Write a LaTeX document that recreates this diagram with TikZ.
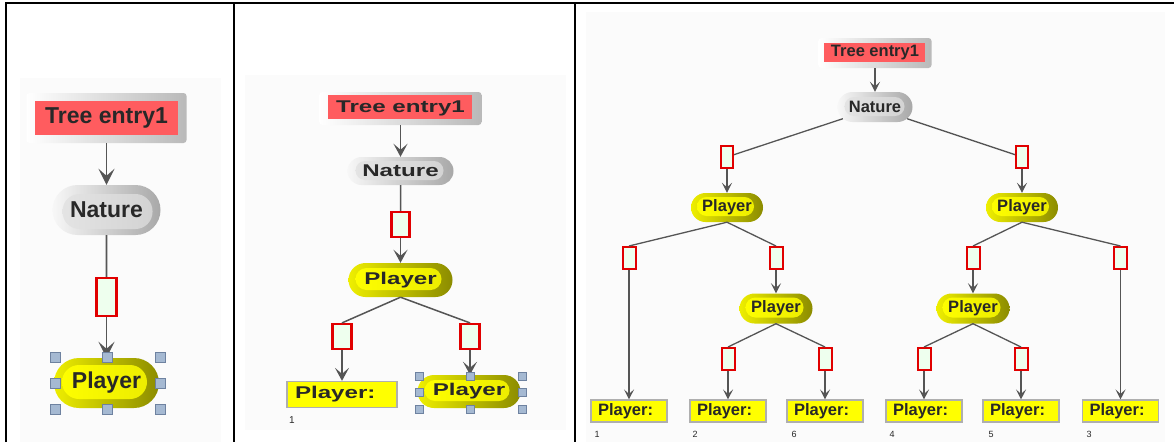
\documentclass[tikz,border=0pt]{standalone}
\usepackage{fontspec}
\setmainfont{Liberation Sans}
\usepackage{graphicx}
\usetikzlibrary{shapes.misc,arrows.meta}
\definecolor{redfill}{RGB}{255,92,95}
\definecolor{edgegray}{RGB}{85,85,85}
\definecolor{boxred}{RGB}{225,0,0}
\definecolor{boxfill}{RGB}{238,255,238}
\definecolor{yel}{RGB}{255,255,0}
\definecolor{yelA}{RGB}{238,238,0}
\definecolor{yelD}{RGB}{140,140,0}
\definecolor{handle}{RGB}{165,185,210}
\definecolor{handleedge}{RGB}{110,130,160}
\definecolor{txt}{RGB}{40,40,40}
\definecolor{bgfaint}{RGB}{251,251,251}
\definecolor{pboxedge}{RGB}{175,175,175}
\newcommand{\txA}[1]{{\fontsize{23}{23}\selectfont\bfseries #1}}
\newcommand{\txB}[1]{\scalebox{1.42}[1]{\fontsize{17}{17}\selectfont\bfseries #1}}
\newcommand{\txC}[1]{{\fontsize{16.5}{16.5}\selectfont\bfseries #1}}
\tikzset{
  treebox/.style n args={6}{rectangle, rounded corners=3pt, minimum width=#1, minimum height=#2, inner sep=0pt,
    left color=white, right color=gray!55, text=txt,
    path picture={\fill[redfill, sharp corners] ([xshift=#3,yshift=-#4]path picture bounding box.north west) rectangle ([xshift=-#5,yshift=#6]path picture bounding box.south east);}},
  pillin/.style n args={6}{path picture={\path[#6, rounded corners=#5] ([xshift=#1,yshift=-#2]path picture bounding box.north west) rectangle ([xshift=-#3,yshift=#4]path picture bounding box.south east);}},
  natout/.style={rounded rectangle, inner sep=0pt, left color=gray!6, right color=gray!68, text=txt},
  natin/.style={left color=gray!20, right color=gray!36},
  plyout/.style={rounded rectangle, inner sep=0pt, left color=yelA, right color=yelD, text=txt},
  plyin/.style={left color=yel, right color=yel!92!black},
  rbox/.style={rectangle, draw=boxred, fill=boxfill, inner sep=0pt},
  pbox/.style={rectangle, fill=yel, draw=pboxedge, line width=1.3pt, inner sep=0pt, text=txt},
  hnd/.style={rectangle, draw=handleedge, fill=handle, line width=0.8pt, minimum size=#1, inner sep=0pt},
  lnA/.style={draw=edgegray, line width=1.6pt},
  lnB/.style={draw=edgegray, line width=1.5pt},
  lnC/.style={draw=edgegray, line width=1.3pt},
  arA/.style={lnA, -{Stealth[length=16pt, width=16pt, inset=7pt]}},
  arB/.style={lnB, -{Stealth[length=13pt, width=14pt, inset=6pt]}},
  arC/.style={lnC, -{Stealth[length=10pt, width=10pt, inset=4.5pt]}},
  labB/.style={text=txt, inner sep=0pt, font=\fontsize{10}{10}\selectfont},
  labC/.style={text=txt, inner sep=0pt, font=\fontsize{9}{9}\selectfont},
}
\begin{document}
\begin{tikzpicture}[x=1pt,y=-1pt]
\fill[white] (0,0) rectangle (1174,442);
\useasboundingbox (0,0) rectangle (1174,442);
\fill[bgfaint] (20,78) rectangle (221,442);
\fill[bgfaint] (245,75) rectangle (566,430);
\fill[bgfaint] (586,12) rectangle (1165,442);
% frame
\draw[line width=2pt] (5.8,442) -- (5.8,3.2) -- (1174,3.2);
\draw[line width=2pt] (233.7,3.2) -- (233.7,442);
\draw[line width=2pt] (574.5,3.2) -- (574.5,442);

% ---------- Panel 1 ----------
\node[treebox={160pt}{50pt}{8pt}{8pt}{9pt}{8pt}] (t1) at (106.5,118) {\txA{Tree entry1}};
\node[natout, minimum width=108pt, minimum height=50pt, pillin={10pt}{9pt}{8pt}{6pt}{17pt}{natin}] (n1) at (106.5,210) {\txA{Nature}};
\node[rbox, line width=2.5pt, minimum width=20pt, minimum height=38pt] (r1) at (106.5,297) {};
\node[plyout, minimum width=105pt, minimum height=50pt, pillin={8pt}{7pt}{12pt}{9pt}{17pt}{plyin}] (p1) at (106.5,383) {\txA{Player}};
\draw[arA] (t1.south) -- (n1.north);
\draw[lnA] (n1) -- (r1);
\draw[arA] (r1.south) -- (p1.north);
\foreach \hx/\hy [count=\i] in {55/357,107/357,160/357,55/383,160/383,55/409,107/409,160/409}
  \node[hnd=10pt] (ha\i) at (\hx,\hy) {};

% ---------- Panel 2 ----------
\node[treebox={162pt}{33pt}{8pt}{3pt}{10pt}{6pt}] (t2) at (400.5,108.5) {\txB{Tree entry1}};
\node[natout, minimum width=106pt, minimum height=28pt, pillin={8pt}{4pt}{10pt}{5pt}{9.5pt}{natin}] (n2) at (400.5,171) {\txB{Nature}};
\node[rbox, line width=2.2pt, minimum width=18pt, minimum height=25pt] (r2) at (400.5,224.5) {};
\node[plyout, minimum width=104pt, minimum height=34pt, pillin={7pt}{5pt}{11pt}{7pt}{11pt}{plyin}] (p2) at (400.5,280) {\txB{Player}};
\node[rbox, line width=2.2pt, minimum width=19pt, minimum height=25pt] (r2l) at (342,336.5) {};
\node[rbox, line width=2.2pt, minimum width=19pt, minimum height=25pt] (r2r) at (470,336.5) {};
\node[pbox, minimum height=26pt] (q2) at (342,394.5) {\makebox[110pt][l]{\hspace{8pt}\txB{Player:}}};
\node[plyout, minimum width=103pt, minimum height=33pt, pillin={7pt}{5pt}{11pt}{7pt}{10.5pt}{plyin}] (p2b) at (469,391.5) {\txB{Player}};
\node[labB] (l2) at (292,420) {1};
\draw[arB] (t2.south) -- (n2.north);
\draw[lnB] (n2) -- (r2);
\draw[arB] (r2.south) -- (p2.north);
\draw[lnB] (p2.south) -- (r2l.north);
\draw[lnB] (p2.south) -- (r2r.north);
\draw[arB] (r2l.south) -- (q2.north);
\draw[arB] (r2r.south) -- (r2r.south |- p2b.north);
\foreach \hx/\hy [count=\i] in {419/376,470/376,522/376,419/392.5,522/392.5,419/409,470/409,522/409}
  \node[hnd=8pt] (hb\i) at (\hx,\hy) {};

% ---------- Panel 3 ----------
\node[treebox={113pt}{30pt}{5pt}{5pt}{7pt}{6pt}] (t3) at (875,53) {\txC{Tree entry1}};
\node[natout, minimum width=75pt, minimum height=30pt, pillin={7pt}{5pt}{8pt}{6pt}{9.5pt}{natin}] (n3) at (875,107) {\txC{Nature}};
\node[rbox, line width=2pt, minimum width=12pt, minimum height=22pt] (r3l) at (727,157) {};
\node[rbox, line width=2pt, minimum width=12pt, minimum height=22pt] (r3r) at (1022,157) {};
\node[plyout, minimum width=72pt, minimum height=29pt, pillin={6pt}{4pt}{9pt}{6pt}{9.5pt}{plyin}] (p3l) at (727,207.5) {\txC{Player}};
\node[plyout, minimum width=72pt, minimum height=29pt, pillin={6pt}{4pt}{9pt}{6pt}{9.5pt}{plyin}] (p3r) at (1022,207.5) {\txC{Player}};
\foreach \nm/\bx in {r3a/629,r3b/776,r3c/973,r3d/1120.5}
  \node[rbox, line width=2pt, minimum width=13pt, minimum height=22pt] (\nm) at (\bx,258) {};
\node[plyout, minimum width=73pt, minimum height=30pt, pillin={6pt}{4pt}{9pt}{6pt}{10pt}{plyin}] (p3m) at (776,308.5) {\txC{Player}};
\node[plyout, minimum width=73pt, minimum height=30pt, pillin={6pt}{4pt}{9pt}{6pt}{10pt}{plyin}] (p3n) at (973,308.5) {\txC{Player}};
\foreach \nm/\bx in {r3e/728,r3f/825,r3g/924,r3h/1021}
  \node[rbox, line width=2pt, minimum width=13pt, minimum height=22pt] (\nm) at (\bx,359) {};
\foreach \nm/\bx in {q3a/629,q3b/728,q3c/825,q3d/924,q3e/1021,q3f/1120.5}
  \node[pbox, line width=1.1pt, minimum height=22pt] (\nm) at (\bx,411) {\makebox[76pt][l]{\hspace{7pt}\txC{Player:}}};
\foreach \nm/\lx/\lt in {l3a/597/1,l3b/695/2,l3c/794/6,l3d/892/4,l3e/991/5,l3f/1089/3}
  \node[labC] (\nm) at (\lx,434) {\lt};
\draw[arC] (t3.south) -- (n3.north);
\draw[lnC] (n3.200) -- (r3l);
\draw[lnC] (n3.-20) -- (r3r);
\draw[arC] (r3l.south) -- (p3l.north);
\draw[arC] (r3r.south) -- (p3r.north);
\draw[lnC] (p3l.south) -- (r3a.north);
\draw[lnC] (p3l.south) -- (r3b.north);
\draw[lnC] (p3r.south) -- (r3c.north);
\draw[lnC] (p3r.south) -- (r3d.north);
\draw[arC] (r3b.south) -- (p3m.north);
\draw[arC] (r3c.south) -- (p3n.north);
\draw[lnC] (p3m.south) -- (r3e.north);
\draw[lnC] (p3m.south) -- (r3f.north);
\draw[lnC] (p3n.south) -- (r3g.north);
\draw[lnC] (p3n.south) -- (r3h.north);
\draw[arC] (r3a.south) -- (q3a.north);
\draw[arC] (r3e.south) -- (q3b.north);
\draw[arC] (r3f.south) -- (q3c.north);
\draw[arC] (r3g.south) -- (q3d.north);
\draw[arC] (r3h.south) -- (q3e.north);
\draw[arC] (r3d.south) -- (q3f.north);
\end{tikzpicture}
\end{document}
